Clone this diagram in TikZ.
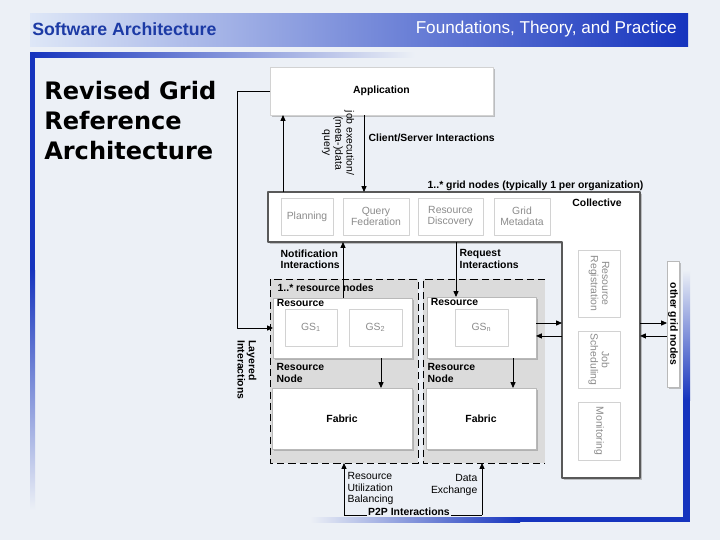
\documentclass[tikz,border=0pt]{standalone}
\usepackage{fontspec}
\setmainfont{Liberation Sans}
\newfontfamily\titlefont{DejaVu Sans}
\usetikzlibrary{
  arrows.meta, % Triangle 箭头
  shadows      % 方框投影
}
\def\pxu{0.025cm}
\newcommand\dgfont{\fontsize{7.4}{8}\selectfont}
\definecolor{slidebg}{RGB}{236,240,246}
\definecolor{barblue}{RGB}{22,52,190}
\definecolor{bandlight}{RGB}{222,231,247}
\definecolor{bandmid}{RGB}{110,140,225}
\definecolor{titleblue}{RGB}{28,58,165}
\definecolor{subgray}{RGB}{140,140,140}
\tikzset{
  sz/.style 2 args={minimum width=#1*\pxu, minimum height=#2*\pxu},
  box shadow/.style={
    drop shadow={shadow xshift=1.3pt, shadow yshift=-1.3pt, opacity=0.45}
  },
  mainbox/.style={
    draw=gray!55, fill=white, inner sep=0pt, outer sep=0pt,
    box shadow, font=\dgfont\bfseries
  },
  subbox/.style={
    draw=gray!35, fill=white, inner sep=0pt, outer sep=0pt,
    text=subgray, font=\dgfont, align=center
  },
  lbl/.style={font=\dgfont\bfseries, inner sep=1pt, align=left},
  plain lbl/.style={font=\dgfont, inner sep=1pt},
  arr/.style={-{Triangle[length=4.2pt,width=3.6pt]}, line width=0.6pt},
  conn/.style={line width=0.6pt},
  region/.style={draw=black, line width=0.6pt, dash pattern=on 5pt off 3pt}
}

\begin{document}
\begin{tikzpicture}[x=0.025cm, y=-0.025cm, line join=round]
  % ===================================
  % 幻灯片背景、标题栏与蓝色边条
  % ===================================
  \fill[slidebg] (0,0) rectangle (720,540);
  \useasboundingbox (0,0) rectangle (720,540);

  \shade[left color=bandlight, middle color=bandmid, right color=barblue] (30,13) rectangle (688,46);
  \shade[left color=barblue, right color=slidebg] (30,52) rectangle (415,57);
  % 左侧竖条（向下渐隐）
  \fill[barblue] (30,52) rectangle (35,270);
  \shade[top color=barblue, bottom color=slidebg] (30,270) rectangle (35,510);
  % 右侧竖条与底边条
  \shade[top color=slidebg, bottom color=barblue] (683,270) rectangle (690,400);
  \fill[barblue] (683,400) rectangle (690,522);
  \shade[left color=slidebg, right color=barblue] (310,517) rectangle (520,522);
  \fill[barblue] (520,517) rectangle (690,522);

  \node[anchor=west, inner sep=0pt, text=titleblue,
        font=\fontsize{12.6}{14}\selectfont\bfseries] (hdl) at (32,29) {Software Architecture};
  \node[anchor=east, inner sep=0pt, text=white,
        font=\fontsize{12.2}{14}\selectfont] (hdr) at (677,29) {Foundations, Theory, and Practice};
  \node[anchor=north west, align=left, inner sep=0pt,
        font=\titlefont\fontsize{17.1}{21.3}\selectfont\bfseries] (ttl) at (44,81)
        {Revised Grid\\Reference\\Architecture};

  % ===================================
  % 应用层与集合层（L 形框）
  % ===================================
  \node[mainbox, sz={223}{48}, draw=gray!35] (app) at (381.5,91) {Application};

  \coordinate (colNW) at (268,192);
  \coordinate (colNE) at (640,192);
  \coordinate (colSE) at (640,478);
  \coordinate (colSW) at (562,478);
  \coordinate (colIn) at (562,242); % 内角
  \coordinate (colW)  at (268,242);
  \draw[fill=white, draw=black!65, line width=0.9pt, box shadow]
    (colNW) -- (colNE) -- (colSE) -- (colSW) -- (colIn) -- (colW) -- cycle;

  \node[lbl] (colt) at (597,203) {Collective};
  \node[subbox, sz={52}{37}] (plan)  at (307,216.5)   {Planning};
  \node[subbox, sz={66}{37}] (qfed)  at (376,216.5)   {Query\\Federation};
  \node[subbox, sz={65}{37}] (rdis)  at (450.5,216.5) {Resource\\Discovery};
  \node[subbox, sz={56}{37}] (gmeta) at (522,216.5)   {Grid\\Metadata};
  % 右侧竖列中的服务（文字竖排）
  \node[subbox, sz={67}{42}, rotate=-90] (rreg) at (599,283.5) {Resource\\Registration};
  \node[subbox, sz={57}{42}, rotate=-90] (jsch) at (599,359.5) {Job\\Scheduling};
  \node[subbox, sz={58}{42}, rotate=-90] (moni) at (599,431)   {Monitoring};

  \node[mainbox, sz={12}{126}] (other) at (673,324) {};
  \node[lbl, rotate=-90] (othert) at (other.center) {other grid nodes};

  \node[lbl, anchor=west] (gnt) at (426,186) {1..* grid nodes (typically 1 per organization)};
  \node[lbl, anchor=west] (cst) at (367,138) {Client/Server Interactions};
  \node[plain lbl, rotate=-90, align=center] (jobt) at (338,143) {job execution/\\(meta-)data\\query};

  % ===================================
  % 资源节点（虚线区域）
  % ===================================
  \coordinate (rnA) at (270,279);
  \coordinate (rnB) at (418,463);
  \draw[region, fill=black!14] (rnA) rectangle (rnB);
  \coordinate (rnC) at (423,279);
  \coordinate (rnD) at (545,463);
  \fill[black!14] (rnC) rectangle (rnD);
  \draw[region] (rnD |- rnC) -- (rnC) -- (rnC |- rnD) -- (rnD);

  \node[lbl, anchor=west] (rnlbl) at (276,288) {1..* resource nodes};

  \node[mainbox, sz={139}{60}] (res1) at (342.5,328) {};
  \node[lbl, anchor=north west, inner xsep=2.5pt] (res1t) at (res1.north west) {Resource};
  \node[subbox, sz={52}{37}] (gs1) at (311,327.5)   {GS\textsubscript{1}};
  \node[subbox, sz={53}{37}] (gs2) at (375.5,327.5) {GS\textsubscript{2}};

  \node[mainbox, sz={109}{61}] (res2) at (481.5,327.5) {};
  \node[lbl, anchor=north west, inner xsep=2.5pt] (res2t) at (res2.north west) {Resource};
  \node[subbox, sz={53}{37}] (gsn) at (481.5,327.5) {GS\textsubscript{n}};

  \node[lbl, anchor=north west] (rn1t) at (275,362) {Resource\\Node};
  \node[lbl, anchor=north west] (rn2t) at (426,362) {Resource\\Node};

  \node[mainbox, sz={140}{61}] (fab1) at (342,418.5) {Fabric};
  \node[mainbox, sz={110}{61}] (fab2) at (481,418.5) {Fabric};

  % ===================================
  % 交互箭头
  % ===================================
  \coordinate (upx) at (283,192);
  \draw[arr] (upx) -- (upx |- app.south);
  \coordinate (downx) at (364,192);
  \draw[arr] (downx |- app.south) -- (downx);

  % 分层交互：应用层直达资源层
  \draw[arr] (app.west) -- ++(-33,0) |- (res1.west);
  \node[lbl, rotate=-90] (layt) at (247,370) {Layered\\Interactions};

  \coordinate (notx) at (343,242);
  \draw[arr] (notx |- res1.north) -- (notx);
  \node[lbl, anchor=north west] (nott) at (279,248) {Notification\\Interactions};

  \coordinate (reqx) at (456,242);
  \draw[arr] (reqx) -- (reqx |- res2.north);
  \node[lbl, anchor=north west] (reqt) at (458,248) {Request\\Interactions};

  \coordinate (rf1) at (381,358);
  \draw[arr] (rf1 |- res1.south) -- (rf1 |- fab1.north);
  \coordinate (rf2) at (513,358);
  \draw[arr] (rf2 |- res2.south) -- (rf2 |- fab2.north);

  \draw[arr] ([yshift=3.2pt]res2.east) -- ([yshift=3.2pt]res2.east -| colIn);
  \draw[arr] ([yshift=-6pt]res2.east -| colIn) -- ([yshift=-6pt]res2.east);

  \draw[arr] ([yshift=0.7pt]other.west -| colNE) -- ([yshift=0.7pt]other.west);
  \draw[arr] ([yshift=-8.5pt]other.west) -- ([yshift=-8.5pt]other.west -| colNE);

  % P2P 交互
  \coordinate (p2pA) at (344,515);
  \coordinate (p2pB) at (482,515);
  \draw[conn] (p2pA) -- (p2pB);
  \draw[arr] (p2pA) -- (p2pA |- rnB);
  \draw[arr] (p2pB) -- (p2pB |- rnB);
  \node[lbl, fill=slidebg, inner sep=1pt] (p2pt) at (409,512) {P2P Interactions};
  \node[plain lbl, anchor=north west, align=left] (rub) at (346,471) {Resource\\Utilization\\Balancing};
  \node[plain lbl, anchor=north east, align=right] (dex) at (479,473) {Data\\Exchange};

\end{tikzpicture}
\end{document}
